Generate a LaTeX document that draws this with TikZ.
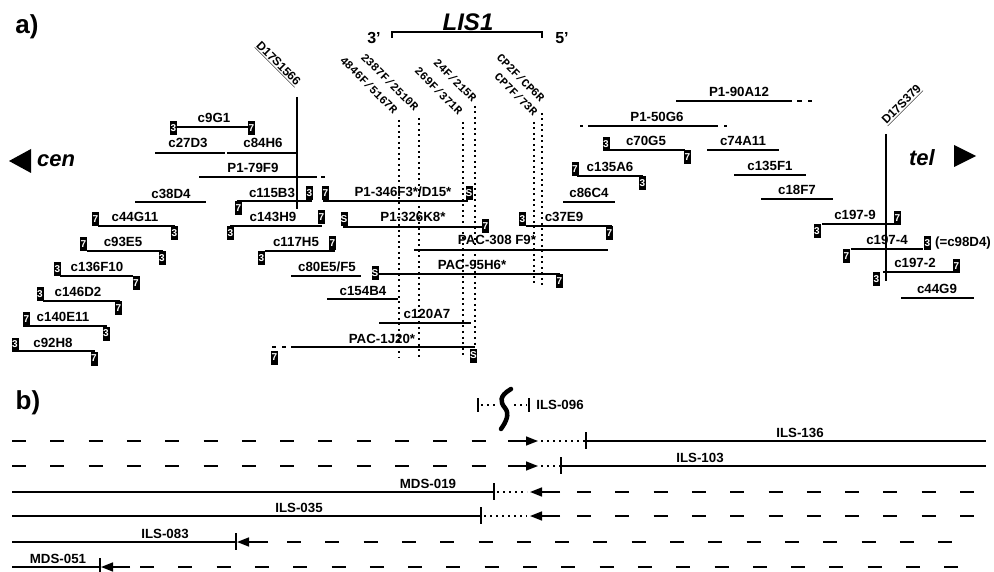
\documentclass[tikz,border=0pt]{standalone}
\usepackage{fontspec}
\setmainfont{Liberation Sans}
\setmonofont{Liberation Mono}
\usetikzlibrary{arrows.meta}

\begin{document}
\begin{tikzpicture}[x=1pt,y=-1pt,
  clone/.style={line width=2.2pt},
  lbl/.style={anchor=base,inner sep=0pt,font=\bfseries\fontsize{13.3}{13.3}\selectfont},
  endbox/.style={fill=black,text=white,inner sep=0pt,minimum width=7pt,minimum height=14pt,font=\bfseries\fontsize{10}{10}\selectfont},
  marker/.style={line width=1.2pt},
  stslbl/.style={inner sep=0pt,font=\bfseries\fontsize{12}{12}\selectfont},
  primerline/.style={line width=1.5pt,dash pattern=on 2pt off 3.5pt},
  primerlbl/.style={rotate=-45,anchor=east,inner sep=0pt,font=\ttfamily\bfseries\fontsize{11.5}{11.5}\selectfont},
  headlbl/.style={inner sep=0pt,font=\bfseries\fontsize{26}{26}\selectfont},
  armlbl/.style={inner sep=0pt,font=\bfseries\itshape\fontsize{22}{22}\selectfont},
  lanedash/.style={line width=1.5pt,dash pattern=on 14pt off 24.3pt},
  dotline/.style={line width=1.8pt,dash pattern=on 2pt off 4pt},
  arrowline/.style={line width=1.6pt,-{Triangle[length=12pt,width=9pt]}},
  endtick/.style={line width=1.2pt}
]
\useasboundingbox (0,0) rectangle (994,572);
% a) contig map
\node[headlbl] (parta) at (27,27) {a)};
\fill (9,161) -- (31,149) -- (31,173) -- cycle;
\node[armlbl] (cen) at (56,161) {cen};
\fill (976,156) -- (954,145) -- (954,167) -- cycle;
\node[armlbl] (tel) at (922,158) {tel};
\node[inner sep=0pt,font=\bfseries\itshape\fontsize{24}{24}\selectfont] (lis1) at (468,22) {LIS1};
\draw[line width=1.3pt] (392,38) -- (392,32) -- (542,32) -- (542,38);
\node[inner sep=0pt,font=\bfseries\fontsize{16}{16}\selectfont] (end3) at (374,38) {3'};
\node[inner sep=0pt,font=\bfseries\fontsize{16}{16}\selectfont] (end5) at (562,38) {5'};
\draw[marker] (297,97) -- (297,209);
\node[stslbl,rotate=-45] (d17s1566) at (278,64) {\underline{D17S1566}};
\draw[marker] (886,134) -- (886,281);
\node[stslbl,rotate=45] (d17s379) at (902,105) {\underline{D17S379}};
\draw[primerline] (399,120) -- (399,358); \draw[primerline] (419,118) -- (419,357); \draw[primerline] (463,122) -- (463,356);
\draw[primerline] (475,106) -- (475,347); \draw[primerline] (534,122) -- (534,285); \draw[primerline] (542,113) -- (542,285);
\node[primerlbl] (pr4846) at (396,112) {4846F/5167R};
\node[primerlbl] (pr2387) at (417,109) {2387F/2510R};
\node[primerlbl] (pr269) at (461,113) {269F/371R};
\node[primerlbl] (pr24) at (475,100) {24F/215R};
\node[primerlbl] (prcp7) at (536,114) {CP7F/73R};
\node[primerlbl] (prcp2) at (543,100) {CP2F/CP6R};
\draw[clone] (177,127) -- (250,127); \node[lbl] (c9G1) at (214,123) {c9G1};
\node[endbox] (c9G1a) at (173.5,128.5) {3}; \node[endbox] (c9G1b) at (251.5,128.5) {7};
\draw[clone] (155,153) -- (225,153); \node[lbl] (c27D3) at (188,148) {c27D3};
\draw[clone] (227,153) -- (297,153); \node[lbl] (c84H6) at (263,148) {c84H6};
\draw[clone] (199,177) -- (317,177); \draw[clone] (321,177) -- (325,177); \node[lbl] (P1-79F9) at (253,173) {P1-79F9};
\draw[clone] (135,202) -- (206,202); \node[lbl] (c38D4) at (171,199) {c38D4};
\draw[clone] (237,201) -- (312,201); \node[lbl] (c115B3) at (272,198) {c115B3};
\node[endbox] (c115B3a) at (238.5,208) {7}; \node[endbox] (c115B3b) at (309.5,193.5) {3};
\draw[clone] (230,226) -- (322,226); \node[lbl] (c143H9) at (273,222) {c143H9};
\node[endbox] (c143H9a) at (230.5,233.5) {3}; \node[endbox] (c143H9b) at (321.5,217.5) {7};
\draw[clone] (98,226) -- (175,226); \node[lbl] (c44G11) at (135,222) {c44G11};
\node[endbox] (c44G11a) at (95.5,219.5) {7}; \node[endbox] (c44G11b) at (174.5,233.5) {3};
\draw[clone] (87,251) -- (163,251); \node[lbl] (c93E5) at (123,247) {c93E5};
\node[endbox] (c93E5a) at (83.5,244.5) {7}; \node[endbox] (c93E5b) at (162,258.5) {3};
\draw[clone] (60,276) -- (133,276); \node[lbl] (c136F10) at (97,272) {c136F10};
\node[endbox] (c136F10a) at (57.5,269.5) {3}; \node[endbox] (c136F10b) at (136,283.5) {7};
\draw[clone] (43,301) -- (120,301); \node[lbl] (c146D2) at (78,297) {c146D2};
\node[endbox] (c146D2a) at (40,294.5) {3}; \node[endbox] (c146D2b) at (118.5,308.5) {7};
\draw[clone] (30,326) -- (107,326); \node[lbl] (c140E11) at (63,322) {c140E11};
\node[endbox] (c140E11a) at (26.5,319.5) {7}; \node[endbox] (c140E11b) at (106,333.5) {3};
\draw[clone] (18,351) -- (95,351); \node[lbl] (c92H8) at (53,347) {c92H8};
\node[endbox] (c92H8a) at (15,344.5) {3}; \node[endbox] (c92H8b) at (94,358.5) {7};
\draw[clone] (265,251) -- (335,251); \node[lbl] (c117H5) at (296,247) {c117H5};
\node[endbox] (c117H5a) at (261.5,258.5) {3}; \node[endbox] (c117H5b) at (332.5,243) {7};
\draw[clone] (291,276) -- (361,276); \node[lbl] (c80E5) at (327,272) {c80E5/F5};
\draw[clone] (323,201) -- (468,201); \node[lbl] (P1-346F3) at (403,197) {P1-346F3*/D15*};
\node[endbox] (P1-346F3a) at (325.5,193.5) {7}; \node[endbox] (P1-346F3b) at (469,193.5) {S};
\draw[clone] (343,227) -- (487,227); \node[lbl] (P1-326K8) at (413,222) {P1-326K8*};
\node[endbox] (P1-326K8a) at (344,219) {S}; \node[endbox] (P1-326K8b) at (485.5,226.5) {7};
\draw[clone] (414,250) -- (608,250); \node[lbl] (PAC-308F9) at (497,245) {PAC-308 F9*};
\draw[clone] (375,274) -- (560,274); \node[lbl] (PAC-95H6) at (472,270) {PAC-95H6*};
\node[endbox] (PAC-95H6a) at (375,273.5) {S}; \node[endbox] (PAC-95H6b) at (559.5,281) {7};
\draw[clone] (327,299) -- (398,299); \node[lbl] (c154B4) at (363,295) {c154B4};
\draw[clone] (379,323) -- (471,323); \node[lbl] (c120A7) at (427,319) {c120A7};
\draw[clone] (291,347) -- (475,347); \draw[clone] (272,347) -- (276,347); \draw[clone] (282,347) -- (286,347);
\node[lbl] (PAC-1J20) at (382,343) {PAC-1J20*};
\node[endbox] (PAC-1J20a) at (274.5,357.5) {7}; \node[endbox] (PAC-1J20b) at (473.5,355.5) {S};
\draw[clone] (676,101) -- (792,101); \draw[clone] (797,101) -- (802,101); \draw[clone] (808,101) -- (812,101);
\node[lbl] (P1-90A12) at (739,97) {P1-90A12};
\draw[clone] (588,126) -- (718,126); \draw[clone] (580,126) -- (583,126); \draw[clone] (724,126) -- (727,126);
\node[lbl] (P1-50G6) at (657,122) {P1-50G6};
\draw[clone] (610,150) -- (685,150); \node[lbl] (c70G5) at (646,146) {c70G5};
\node[endbox] (c70G5a) at (606,144) {3}; \node[endbox] (c70G5b) at (687.5,157) {7};
\draw[clone] (707,150) -- (779,150); \node[lbl] (c74A11) at (743,146) {c74A11};
\draw[clone] (577,176) -- (643,176); \node[lbl] (c135A6) at (610,172) {c135A6};
\node[endbox] (c135A6a) at (575,169.5) {7}; \node[endbox] (c135A6b) at (642.5,183.5) {3};
\draw[clone] (734,175) -- (806,175); \node[lbl] (c135F1) at (770,171) {c135F1};
\draw[clone] (563,202) -- (615,202); \node[lbl] (c86C4) at (589,198) {c86C4};
\draw[clone] (761,199) -- (833,199); \node[lbl] (c18F7) at (797,195) {c18F7};
\draw[clone] (526,226) -- (612,226); \node[lbl] (c37E9) at (564,222) {c37E9};
\node[endbox] (c37E9a) at (522.5,219.5) {3}; \node[endbox] (c37E9b) at (609.5,233.5) {7};
\draw[clone] (822,224) -- (895,224); \node[lbl] (c197-9) at (855,220) {c197-9};
\node[endbox] (c197-9a) at (817,231.5) {3}; \node[endbox] (c197-9b) at (897.5,218) {7};
\draw[clone] (851,249) -- (923,249); \node[lbl] (c197-4) at (887,245) {c197-4};
\node[endbox] (c197-4a) at (846.5,256.5) {7}; \node[endbox] (c197-4b) at (927.5,243) {3};
\node[lbl] (c98D4) at (963,247) {(=c98D4)};
\draw[clone] (883,272) -- (957,272); \node[lbl] (c197-2) at (915,268) {c197-2};
\node[endbox] (c197-2a) at (876.5,279.5) {3}; \node[endbox] (c197-2b) at (956.5,266) {7};
\draw[clone] (901,298) -- (974,298); \node[lbl] (c44G9) at (937,294) {c44G9};
% b) deletion endpoints
\node[headlbl] (partb) at (28,403) {b)};
\draw[endtick] (478,398) -- (478,412); \draw[dotline] (481,405) -- (497,405);
\draw[line width=4.5pt,line cap=round] (511,389) .. controls (499,396) and (500,402) .. (505,408) .. controls (510,414) and (506,422) .. (501,429);
\draw[dotline] (514,405) -- (527,405); \draw[endtick] (529,398) -- (529,412);
\node[inner sep=0pt,font=\bfseries\fontsize{13.3}{13.3}\selectfont] (ILS-096) at (560,405) {ILS-096};
\draw[lanedash] (12,441) -- (486,441); \draw[arrowline] (508,441) -- (538,441); \draw[dotline] (541,441) -- (586,441);
\draw[endtick] (586,432) -- (586,449); \draw[clone] (586,441) -- (986,441); \node[lbl] (ILS-136) at (800,437) {ILS-136};
\draw[lanedash] (12,466) -- (486,466); \draw[arrowline] (508,466) -- (538,466); \draw[dotline] (541,466) -- (561,466);
\draw[endtick] (561,457) -- (561,474); \draw[clone] (561,466) -- (986,466); \node[lbl] (ILS-103) at (700,462) {ILS-103};
\draw[clone] (12,492) -- (494,492); \draw[endtick] (494,483) -- (494,500); \draw[dotline] (497,492) -- (527,492);
\draw[arrowline] (560,492) -- (530,492); \draw[lanedash] (577,492) -- (986,492); \node[lbl] (MDS-019) at (428,488) {MDS-019};
\draw[clone] (12,516) -- (481,516); \draw[endtick] (481,507) -- (481,524); \draw[dotline] (484,516) -- (527,516);
\draw[arrowline] (560,516) -- (530,516); \draw[lanedash] (577,516) -- (986,516); \node[lbl] (ILS-035) at (299,512) {ILS-035};
\draw[clone] (12,542) -- (236,542); \draw[endtick] (236,533) -- (236,550);
\draw[arrowline] (268,542) -- (237,542); \draw[lanedash] (287,542) -- (975,542); \node[lbl] (ILS-083) at (165,538) {ILS-083};
\draw[clone] (12,567) -- (100,567); \draw[endtick] (100,558) -- (100,572);
\draw[arrowline] (130,567) -- (101,567); \draw[lanedash] (140,567) -- (960,567); \node[lbl] (MDS-051) at (58,563) {MDS-051};
\end{tikzpicture}
\end{document}
